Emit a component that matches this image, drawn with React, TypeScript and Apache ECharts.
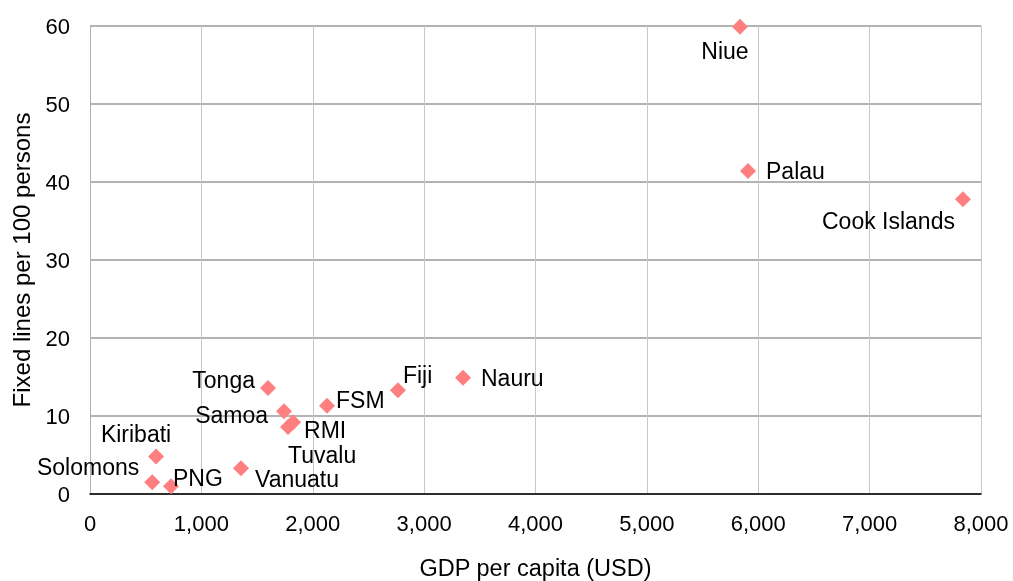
import React, { useEffect, useRef } from "react";
import * as echarts from "echarts";

const countries = ["Niue", "Palau", "Cook Islands", "Nauru", "Fiji", "FSM", "Tonga", "Samoa", "RMI", "Tuvalu", "Kiribati", "Solomons", "PNG", "Vanuatu"];
const gdpPerCapita = [5836, 5908, 7838, 3349, 2765, 2128, 1598, 1742, 1823, 1778, 593, 559, 727, 1356];
const fixedLines = [59.9, 41.4, 37.8, 14.9, 13.3, 11.3, 13.6, 10.6, 9.2, 8.6, 4.8, 1.5, 1.0, 3.3];

const xTicks = { min: 0, max: 8000, interval: 1000 };
const yTicks = { min: 0, max: 60, interval: 10 };

// label placement (style only)
const labelPlacement: Record<string, { position: string; offset: [number, number] }> = {
  Niue: { position: "bottom", offset: [-15, 1] },
  Palau: { position: "right", offset: [5, 0] },
  "Cook Islands": { position: "left", offset: [5, 22] },
  Nauru: { position: "right", offset: [5, 0] },
  Fiji: { position: "right", offset: [-8, -15] },
  FSM: { position: "right", offset: [-4, -6] },
  Tonga: { position: "left", offset: [0, -8] },
  Samoa: { position: "left", offset: [-3, 4] },
  RMI: { position: "right", offset: [-2, 8] },
  Tuvalu: { position: "right", offset: [-13, 28] },
  Kiribati: { position: "top", offset: [-20, 0] },
  Solomons: { position: "left", offset: [0, -15] },
  PNG: { position: "right", offset: [-11, -8] },
  Vanuatu: { position: "right", offset: [1, 11] },
};

const FONT = "'Liberation Sans', Arial, sans-serif";
const FS_TICK = 22;
const FS_LABEL = 23;

export default function App() {
  const ref = useRef<HTMLDivElement>(null);
  useEffect(() => {
    if (!ref.current) return;
    const chart = echarts.init(ref.current, undefined, { renderer: "svg" });
    const data = countries.map((name, i) => ({
      name,
      value: [gdpPerCapita[i], fixedLines[i]],
      label: {
        show: true,
        formatter: name,
        position: labelPlacement[name].position,
        offset: labelPlacement[name].offset,
        distance: 5,
        color: "#000",
        fontSize: FS_LABEL,
        lineHeight: 20,
        fontFamily: FONT,
      },
    }));
    chart.setOption({
      animation: false,
      textStyle: { fontFamily: FONT },
      grid: { left: 90, right: 32, top: 26, bottom: 87, containLabel: false, outerBoundsMode: "none" },
      xAxis: {
        type: "value",
        min: xTicks.min,
        max: xTicks.max,
        interval: xTicks.interval,
        name: "GDP per capita (USD)",
        nameLocation: "middle",
        nameGap: 62,
        nameTextStyle: { fontSize: 23.5, color: "#000", fontFamily: FONT },
        axisLine: { show: true, onZero: false, lineStyle: { color: "#000", width: 1.5 } },
        axisTick: { show: false },
        axisLabel: {
          margin: 18,
          fontSize: FS_TICK,
          color: "#000",
          fontFamily: FONT,
          formatter: (v: number) => v.toLocaleString("en-US"),
        },
        splitLine: { show: true, lineStyle: { color: "#c8c8c8", width: 1 } },
      },
      yAxis: {
        type: "value",
        min: yTicks.min,
        max: yTicks.max,
        interval: yTicks.interval,
        name: "Fixed lines per 100 persons",
        nameLocation: "middle",
        nameGap: 57,
        nameTextStyle: { fontSize: 24, color: "#000", fontFamily: FONT },
        axisLine: { show: true, lineStyle: { color: "#b0b0b0", width: 1 } },
        axisTick: { show: false },
        axisLabel: { margin: 20, fontSize: FS_TICK, color: "#000", fontFamily: FONT },
        splitLine: { show: true, lineStyle: { color: "#b3b3b3", width: 2 } },
      },
      series: [
        {
          type: "scatter",
          symbol: "diamond",
          symbolSize: 16,
          itemStyle: { color: "#ff7f80", opacity: 1 },
          data,
        },
      ],
    });
    return () => chart.dispose();
  }, []);
  return <div ref={ref} style={{ position: "fixed", left: 0, top: 0, width: 1013, height: 581 }} />;
}
